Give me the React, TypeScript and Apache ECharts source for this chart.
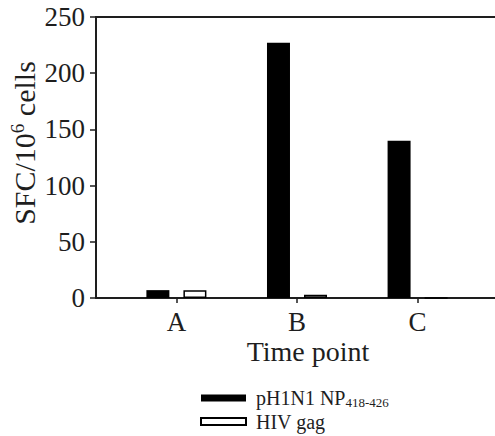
import React, { useEffect, useRef } from "react";
import * as echarts from "echarts";

const timePoints = ["A", "B", "C"];
const pH1N1Values = [7, 227, 140];
const hivGagValues = [7, 3, 0];
const yTicks = [0, 50, 100, 150, 200, 250];

const seriesNames = ["pH1N1 NP418-426", "HIV gag"];

// the axis is split into finer slots so the three time points sit where the reference has them
const slotIndex = [2, 5, 8];
const slotCount = 11;

function padded(values: number[]): (number | null)[] {
  const out: (number | null)[] = new Array(slotCount).fill(null);
  slotIndex.forEach((s, i) => {
    out[s] = values[i];
  });
  return out;
}

const slotLabels: string[] = (() => {
  const out = new Array(slotCount).fill("");
  slotIndex.forEach((s, i) => {
    out[s] = timePoints[i];
  });
  return out;
})();

const FONT = "Liberation Serif";
const INK = "#1e1e1e";

export default function App() {
  const ref = useRef<HTMLDivElement>(null);

  useEffect(() => {
    if (!ref.current) return;
    const chart = echarts.init(ref.current, undefined, { renderer: "svg" });
    chart.setOption({
      animation: false,
      backgroundColor: "#ffffff",
      textStyle: { fontFamily: FONT, color: INK },
      grid: {
        left: 96,
        top: 17,
        right: 0,
        height: 281,
        show: false,
      },
      xAxis: [
        {
          type: "category",
          data: slotLabels.map((_, i) => "s" + i),
          boundaryGap: false,
          axisLine: { lineStyle: { color: INK, width: 2 } },
          axisTick: {
            show: true,
            length: 5,
            interval: (index: number) => slotLabels[index] !== "",
            lineStyle: { color: INK, width: 1.5 },
          },
          axisLabel: {
            interval: 0,
            formatter: (_v: string, index: number) => slotLabels[index],
            fontFamily: FONT,
            fontSize: 27,
            lineHeight: 22,
            color: INK,
            margin: 13,
          },
          splitLine: { show: false },
        },
        {
          type: "category",
          position: "top",
          data: slotLabels.map((_, i) => "s" + i),
          boundaryGap: false,
          axisLine: { show: true, lineStyle: { color: INK, width: 2 } },
          axisTick: { show: false },
          axisLabel: { show: false },
          splitLine: { show: false },
        },
      ],
      yAxis: {
        type: "value",
        min: yTicks[0],
        max: yTicks[yTicks.length - 1],
        interval: 50,
        axisLine: { show: true, lineStyle: { color: INK, width: 2 } },
        axisTick: { show: true, length: 6, lineStyle: { color: INK, width: 1.5 } },
        axisLabel: {
          fontFamily: FONT,
          fontSize: 27,
          color: INK,
          margin: 11,
        },
        splitLine: { show: false },
      },
      legend: {
        orient: "vertical",
        left: 200,
        top: 388,
        padding: 0,
        itemWidth: 45,
        itemHeight: 7,
        itemGap: 3,
        icon: "rect",
        data: seriesNames,
        formatter: (name: string) =>
          name === seriesNames[0]
            ? "{a|pH1N1 NP}{sub|418-426}"
            : "{a|HIV gag}",
        textStyle: {
          fontFamily: FONT,
          color: INK,
          rich: {
            a: { fontFamily: FONT, fontSize: 20, lineHeight: 21, color: INK, padding: [0, 0, 0, 5] },
            sub: { fontFamily: FONT, fontSize: 13, lineHeight: 13, color: INK, verticalAlign: "bottom", padding: [6, 0, 0, 0] },
          },
        },
      },
      graphic: [
        {
          type: "text",
          x: 24,
          y: 143,
          rotation: Math.PI / 2,
          style: {
            text: "{m|SFC/10}{s|6}{m| cells}",
            align: "center",
            verticalAlign: "middle",
            fill: INK,
            rich: {
              m: { fontFamily: FONT, fontSize: 30, lineHeight: 32, fill: INK },
              s: { fontFamily: FONT, fontSize: 19, lineHeight: 19, fill: INK, verticalAlign: "top" },
            },
          },
        },
        {
          type: "text",
          x: 308,
          y: 351,
          style: {
            text: "Time point",
            align: "center",
            verticalAlign: "middle",
            fontFamily: FONT,
            fontSize: 28,
            lineHeight: 22,
            fill: INK,
          },
        },
      ],
      series: [
        {
          name: seriesNames[0],
          type: "bar",
          data: padded(pH1N1Values),
          barWidth: 23,
          barGap: "61%",
          itemStyle: { color: "#000000", borderColor: "#000000", borderWidth: 0 },
        },
        {
          name: seriesNames[1],
          type: "bar",
          data: padded(hivGagValues),
          barWidth: 23,
          barGap: "61%",
          itemStyle: { color: "#ffffff", borderColor: "#000000", borderWidth: 1.5 },
        },
      ],
    });
    return () => chart.dispose();
  }, []);

  return (
    <div
      style={{ position: "absolute", left: 0, top: 0, width: 495, height: 436, overflow: "hidden", background: "#fff" }}
    >
      <div ref={ref} style={{ width: 501, height: 436 }} />
    </div>
  );
}
